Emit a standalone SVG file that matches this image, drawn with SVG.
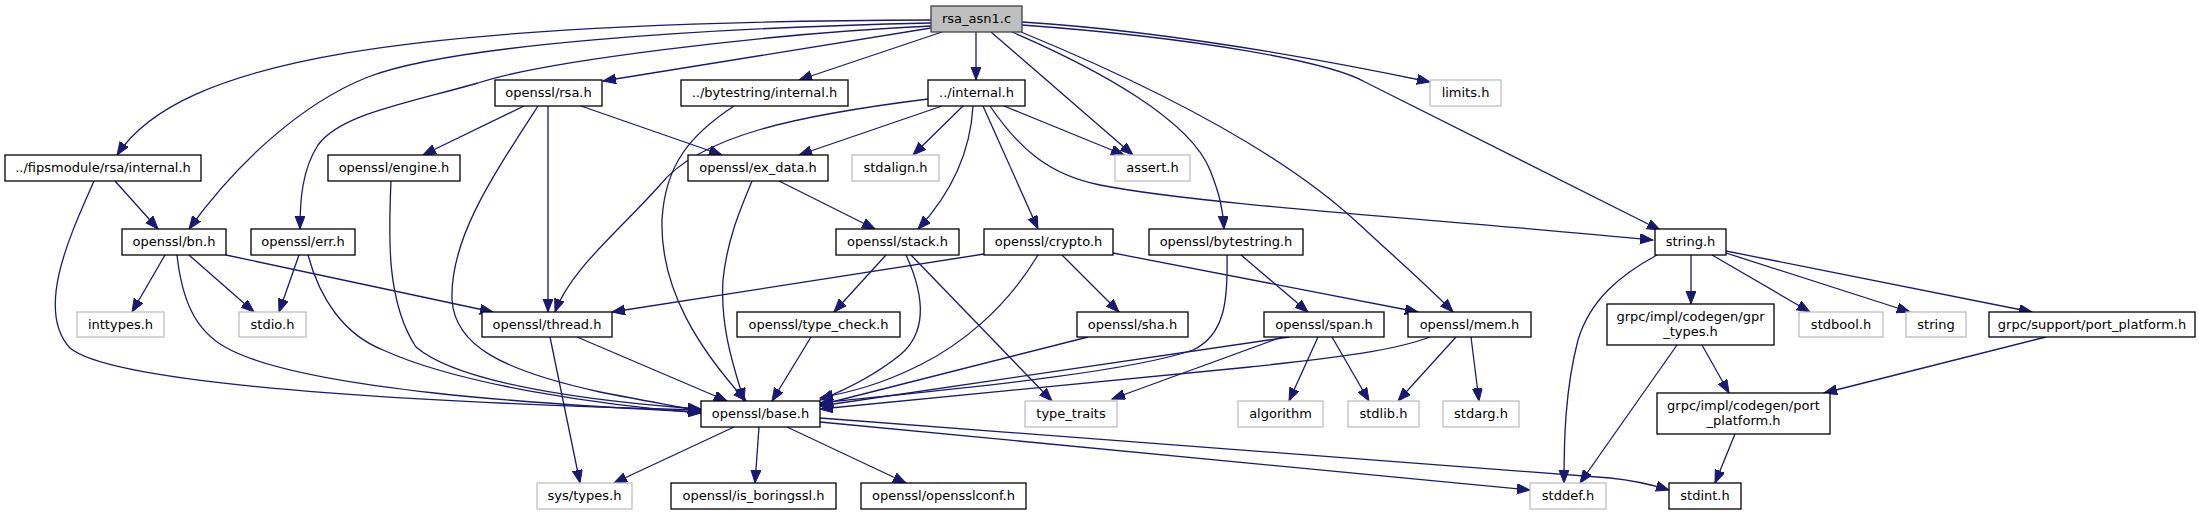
<svg xmlns="http://www.w3.org/2000/svg" width="2199" height="515" viewBox="0 0 2199 515">
<style>
.n rect{fill:#fff;stroke:#000;stroke-width:1.3}
.n.g rect{stroke:#bfbfbf}
.n.root rect{fill:#bfbfbf;stroke:#404040}
.n text{font-family:"DejaVu Sans","Liberation Sans",sans-serif;font-size:13px;text-anchor:middle;fill:#000}
.e path{fill:none;stroke:#191970;stroke-width:1.3;marker-end:url(#ah)}
</style>
<defs>
<marker id="ah" markerUnits="userSpaceOnUse" markerWidth="14" markerHeight="11" refX="13" refY="5" orient="auto">
<path d="M0,0 L13,5 L0,10 z" fill="#191970" stroke="#191970" stroke-width="1"/>
</marker>
</defs>
<rect width="2199" height="515" fill="#fff"/>
<g id="edges" class="e">
<path d="M931,20 C400,22 180,60 117,155"/>
<path d="M931,23 C700,28 450,45 368,77 C300,104 235,165 189,229"/>
<path d="M931,26 C760,34 540,62 478,83 C400,105 340,115 318,145 C302,170 300,200 300,229"/>
<path d="M931,28 L603,81"/>
<path d="M942,32 L799,80"/>
<path d="M976,32 L976,80"/>
<path d="M991,32 L1133,155"/>
<path d="M1012,32 C1100,70 1190,120 1210,170 C1220,195 1223,210 1224,229"/>
<path d="M1021,32 C1150,85 1280,150 1360,225 C1400,262 1430,288 1453,312"/>
<path d="M1022,22 C1150,30 1300,55 1430,82"/>
<path d="M1022,25 C1200,38 1330,62 1365,82 L1660,230"/>
<path d="M115,181 L158,229"/>
<path d="M94,181 C70,235 35,310 70,348 C120,390 500,405 701,410"/>
<path d="M165,255 L132,312"/>
<path d="M189,255 L254,312"/>
<path d="M226,255 L493,312"/>
<path d="M177,255 C182,300 195,330 225,347 C300,390 550,405 701,412"/>
<path d="M299,255 L279,312"/>
<path d="M308,255 C320,300 345,335 383,350 C460,385 600,405 701,413"/>
<path d="M524,106 L423,155"/>
<path d="M581,106 L722,155"/>
<path d="M548,106 L548,312"/>
<path d="M538,106 C490,180 450,240 452,300 C455,345 500,370 600,392 C640,400 670,405 701,411"/>
<path d="M391,181 C389,230 385,300 416,347 C460,385 600,402 701,409"/>
<path d="M734,106 C690,135 665,165 662,220 C660,290 700,350 746,401"/>
<path d="M928,99 C800,115 700,135 660,185 C620,230 570,270 555,312"/>
<path d="M942,106 L799,155"/>
<path d="M963,106 L913,155"/>
<path d="M973,106 C970,160 945,200 918,229"/>
<path d="M983,106 L1038,229"/>
<path d="M1004,106 L1124,155"/>
<path d="M990,106 C1020,150 1050,175 1100,185 C1200,205 1450,220 1653,240"/>
<path d="M779,181 L875,229"/>
<path d="M752,181 C740,210 727,240 723,280 C720,330 735,370 744,401"/>
<path d="M886,255 L834,312"/>
<path d="M906,255 C922,290 930,330 900,355 C875,375 845,390 820,400"/>
<path d="M911,255 L1052,401"/>
<path d="M984,254 L612,312"/>
<path d="M1038,255 C1005,310 960,345 920,365 C880,385 850,392 820,398"/>
<path d="M1062,255 L1119,312"/>
<path d="M1113,253 L1418,312"/>
<path d="M1241,255 L1308,312"/>
<path d="M1227,255 C1228,300 1225,335 1193,350 C1120,375 920,392 820,403"/>
<path d="M1088,337 L820,405"/>
<path d="M811,337 L772,401"/>
<path d="M550,337 L580,483"/>
<path d="M577,337 L727,401"/>
<path d="M1289,337 L820,406"/>
<path d="M1282,337 L1112,399"/>
<path d="M1318,337 L1289,401"/>
<path d="M1332,337 L1369,401"/>
<path d="M1430,337 C1390,352 1330,358 1250,367 C1100,383 950,397 820,409"/>
<path d="M1456,337 L1398,401"/>
<path d="M1471,337 L1479,401"/>
<path d="M734,427 L614,483"/>
<path d="M759,427 L755,483"/>
<path d="M787,427 L906,483"/>
<path d="M820,422 L1530,490"/>
<path d="M820,418 L1610,478 Q1640,481 1669,490"/>
<path d="M1657,255 C1620,275 1590,300 1578,340 C1565,390 1564,440 1564,483"/>
<path d="M1691,255 L1691,304"/>
<path d="M1712,255 L1810,312"/>
<path d="M1726,253 L1910,312"/>
<path d="M1726,251 L2032,312"/>
<path d="M1677,345 L1580,483"/>
<path d="M1702,345 L1729,393"/>
<path d="M2046,337 L1824,393"/>
<path d="M1735,434 L1715,483"/>
</g>
<g id="n_rsa_asn1" class="n root"><rect x="931" y="6" width="91" height="26"/><text x="976.5" y="23">rsa_asn1.c</text></g>
<g id="n_fips_internal" class="n"><rect x="5" y="155" width="196" height="26"/><text x="103" y="172">../fipsmodule/rsa/internal.h</text></g>
<g id="n_bn" class="n"><rect x="122" y="229" width="104" height="26"/><text x="174" y="246">openssl/bn.h</text></g>
<g id="n_err" class="n"><rect x="251" y="229" width="104" height="26"/><text x="303" y="246">openssl/err.h</text></g>
<g id="n_engine" class="n"><rect x="328" y="155" width="132" height="26"/><text x="394" y="172">openssl/engine.h</text></g>
<g id="n_rsa" class="n"><rect x="495" y="80" width="107" height="26"/><text x="548.5" y="97">openssl/rsa.h</text></g>
<g id="n_bs_internal" class="n"><rect x="681" y="80" width="167" height="26"/><text x="764.5" y="97">../bytestring/internal.h</text></g>
<g id="n_internal" class="n"><rect x="928" y="80" width="97" height="26"/><text x="976.5" y="97">../internal.h</text></g>
<g id="n_ex_data" class="n"><rect x="688" y="155" width="140" height="26"/><text x="758" y="172">openssl/ex_data.h</text></g>
<g id="n_stdalign" class="n g"><rect x="852" y="155" width="87" height="26"/><text x="895.5" y="172">stdalign.h</text></g>
<g id="n_assert" class="n g"><rect x="1115" y="155" width="75" height="26"/><text x="1152.5" y="172">assert.h</text></g>
<g id="n_stack" class="n"><rect x="836" y="229" width="123" height="26"/><text x="897.5" y="246">openssl/stack.h</text></g>
<g id="n_crypto" class="n"><rect x="984" y="229" width="129" height="26"/><text x="1048.5" y="246">openssl/crypto.h</text></g>
<g id="n_bytestring" class="n"><rect x="1149" y="229" width="154" height="26"/><text x="1226" y="246">openssl/bytestring.h</text></g>
<g id="n_limits" class="n g"><rect x="1430" y="80" width="71" height="26"/><text x="1465.5" y="97">limits.h</text></g>
<g id="n_string_h" class="n"><rect x="1655" y="229" width="71" height="26"/><text x="1690.5" y="246">string.h</text></g>
<g id="n_inttypes" class="n g"><rect x="77" y="312" width="87" height="25"/><text x="120.5" y="329">inttypes.h</text></g>
<g id="n_stdio" class="n g"><rect x="239" y="312" width="67" height="25"/><text x="272.5" y="329">stdio.h</text></g>
<g id="n_thread" class="n"><rect x="482" y="312" width="130" height="25"/><text x="547" y="329">openssl/thread.h</text></g>
<g id="n_type_check" class="n"><rect x="737" y="312" width="163" height="25"/><text x="818.5" y="329">openssl/type_check.h</text></g>
<g id="n_sha" class="n"><rect x="1077" y="312" width="111" height="25"/><text x="1132.5" y="329">openssl/sha.h</text></g>
<g id="n_span" class="n"><rect x="1264" y="312" width="120" height="25"/><text x="1324" y="329">openssl/span.h</text></g>
<g id="n_mem" class="n"><rect x="1408" y="312" width="123" height="25"/><text x="1469.5" y="329">openssl/mem.h</text></g>
<g id="n_gpr_types" class="n"><rect x="1607" y="304" width="167" height="41"/><text x="1690.5" y="321">grpc/impl/codegen/gpr</text><text x="1690.5" y="336">_types.h</text></g>
<g id="n_stdbool" class="n g"><rect x="1799" y="312" width="84" height="25"/><text x="1841" y="329">stdbool.h</text></g>
<g id="n_string" class="n g"><rect x="1906" y="312" width="60" height="25"/><text x="1936" y="329">string</text></g>
<g id="n_support_port" class="n"><rect x="1989" y="312" width="206" height="25"/><text x="2092" y="329">grpc/support/port_platform.h</text></g>
<g id="n_base" class="n"><rect x="701" y="401" width="119" height="26"/><text x="760.5" y="418">openssl/base.h</text></g>
<g id="n_type_traits" class="n g"><rect x="1025" y="401" width="92" height="26"/><text x="1071" y="418">type_traits</text></g>
<g id="n_algorithm" class="n g"><rect x="1238" y="401" width="85" height="26"/><text x="1280.5" y="418">algorithm</text></g>
<g id="n_stdlib" class="n g"><rect x="1348" y="401" width="71" height="26"/><text x="1383.5" y="418">stdlib.h</text></g>
<g id="n_stdarg" class="n g"><rect x="1443" y="401" width="76" height="26"/><text x="1481" y="418">stdarg.h</text></g>
<g id="n_codegen_port" class="n"><rect x="1657" y="393" width="173" height="41"/><text x="1743.5" y="410">grpc/impl/codegen/port</text><text x="1743.5" y="425">_platform.h</text></g>
<g id="n_sys_types" class="n g"><rect x="537" y="483" width="95" height="26"/><text x="584.5" y="500">sys/types.h</text></g>
<g id="n_is_boringssl" class="n"><rect x="671" y="483" width="165" height="26"/><text x="753.5" y="500">openssl/is_boringssl.h</text></g>
<g id="n_opensslconf" class="n"><rect x="861" y="483" width="165" height="26"/><text x="943.5" y="500">openssl/opensslconf.h</text></g>
<g id="n_stddef" class="n g"><rect x="1530" y="483" width="76" height="26"/><text x="1568" y="500">stddef.h</text></g>
<g id="n_stdint" class="n"><rect x="1669" y="483" width="72" height="26"/><text x="1705" y="500">stdint.h</text></g>
</svg>
